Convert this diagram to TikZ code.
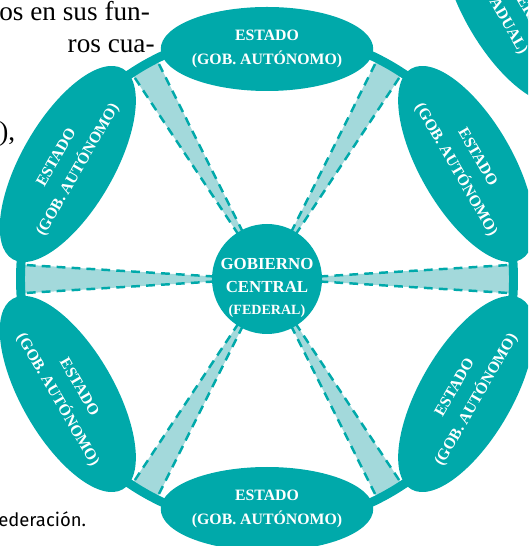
\documentclass[tikz,border=0pt]{standalone}
\usepackage{fontspec}
\setmainfont{Liberation Serif}
\newfontfamily\pie{Fira Sans}
\usetikzlibrary{positioning,shapes.geometric}
\definecolor{turquesa}{RGB}{0,169,170}
\definecolor{celeste}{RGB}{163,217,219}
\tikzset{estado/.style={fill=turquesa, ellipse, text=white, align=center, inner sep=0pt,
                        font=\bfseries\fontsize{9}{14}\selectfont,
                        minimum width=4.4cm, minimum height=1.85cm},
         anillo/.style={draw=turquesa, line width=5.1pt},
         rayo/.style={draw=turquesa, line width=1.4pt, dash pattern=on 5pt off 3.5pt},
         texto/.style={inner sep=0pt, font=\fontsize{15.5}{15.5}\selectfont}}
% brazo claro desde el centro hasta el anillo
\newcommand{\brazo}[1]{%
  \begin{scope}[shift={(c)}, rotate=#1]
    \fill[celeste] (1.05,-0.05) -- (4.9,-0.29) -- (4.9,0.29) -- (1.05,0.05) -- cycle;
    \draw[rayo] (1.05,0.05) -- (4.84,0.28) (1.05,-0.05) -- (4.84,-0.28);
  \end{scope}}

\begin{document}
\begin{tikzpicture}
    \useasboundingbox (0,0) rectangle (10.56,10.92);
    \clip (0,0) rectangle (10.56,10.92);
    \coordinate (c) at (5.34,5.34);

    \node[texto, anchor=base west] (lin1) at (-0.02,10.50) {os en sus fun-};
    \node[texto, anchor=base east] (lin2) at (3.1,9.86) {ros cua-};
    \node[texto, anchor=base west] (lin3) at (-0.02,8.10) {),};
    \node[inner sep=0pt, anchor=base west, font=\pie\fontsize{10.5}{10.5}\selectfont] (pie) at (-0.04,0.38) {ederación.};
    \node[estado, rotate=-60] (estadual) at (10.2,10.8) {GOBIERNO\\(ESTADUAL)};

    \brazo{0}
    \brazo{60}
    \brazo{120}
    \brazo{180}
    \brazo{240}
    \brazo{300}
    \draw[anillo] (c) circle (4.93);

    \node[estado, minimum width=3.9cm, minimum height=1.68cm] (norte) at ([shift={(90:4.6)}]c) {ESTADO\\(GOB. AUTÓNOMO)};
    \node[estado, rotate=-60] (noreste) at ([shift={(30:4.6)}]c) {ESTADO\\(GOB. AUTÓNOMO)};
    \node[estado, rotate=60] (sureste) at ([shift={(-30:4.6)}]c) {ESTADO\\(GOB. AUTÓNOMO)};
    \node[estado, minimum width=3.9cm, minimum height=1.68cm] (sur) at ([shift={(-90:4.6)}]c) {ESTADO\\(GOB. AUTÓNOMO)};
    \node[estado, rotate=-60] (suroeste) at ([shift={(210:4.6)}]c) {ESTADO\\(GOB. AUTÓNOMO)};
    \node[estado, rotate=60] (noroeste) at ([shift={(150:4.6)}]c) {ESTADO\\(GOB. AUTÓNOMO)};

    \node[estado, circle, minimum size=2.2cm] (centro) at (c) {};
    \node[text=white, align=center, inner sep=0pt, font=\bfseries\fontsize{9.6}{13}\selectfont]
        (federal) at ([yshift=-0.18cm]centro.center) {GOBIERNO\\CENTRAL\\{\fontsize{8}{13.5}\selectfont(FEDERAL)}};
\end{tikzpicture}
\end{document}
